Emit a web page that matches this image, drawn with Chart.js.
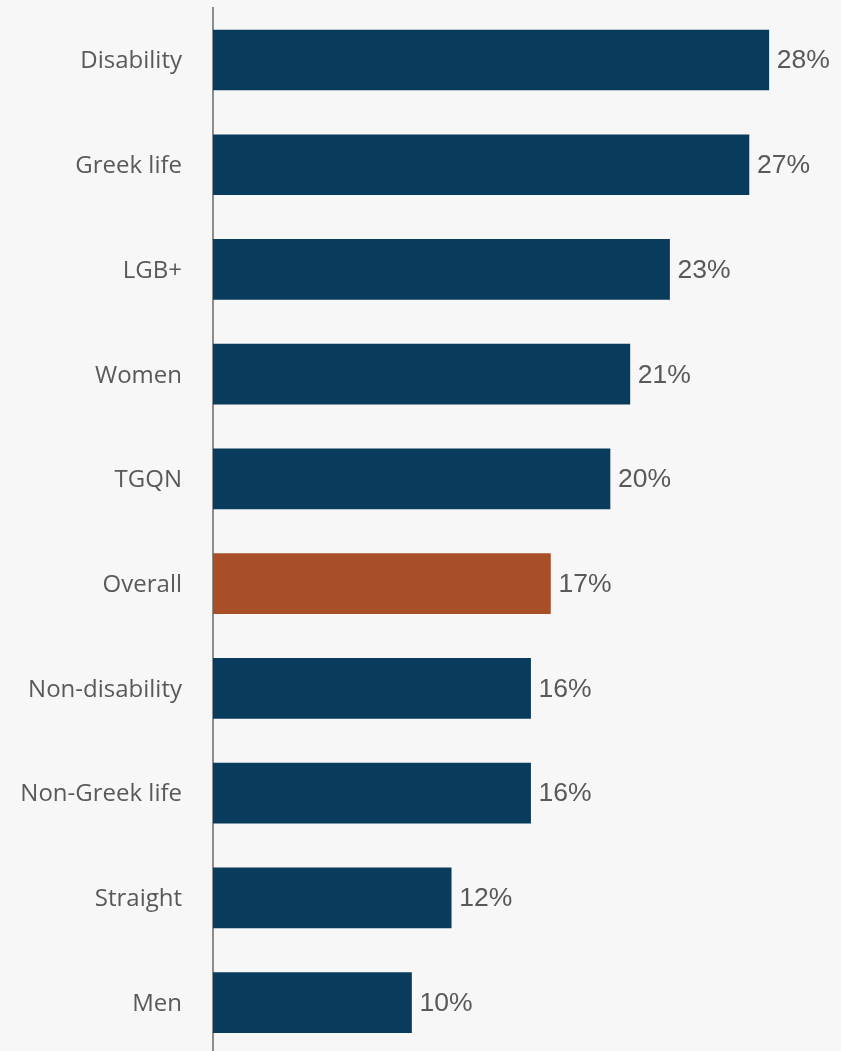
<!DOCTYPE html>
<html>
<head>
<meta charset="utf-8">
<script src="https://cdn.jsdelivr.net/npm/chart.js@4"></script>
<style>
  html, body { margin: 0; padding: 0; background: #f7f7f7; overflow: hidden; }
  #wrap { position: relative; width: 841px; height: 1055px; }
</style>
</head>
<body>
<div id="wrap"><canvas id="c"></canvas></div>
<script>
const categories = ["Disability", "Greek life", "LGB+", "Women", "TGQN", "Overall", "Non-disability", "Non-Greek life", "Straight", "Men"];
const values = [28, 27, 23, 21, 20, 17, 16, 16, 12, 10];
const highlight = "Overall";

const BLUE = "#083b5c";
const ORANGE = "#a94f27";

const valueLabels = {
  id: "valueLabels",
  afterDatasetsDraw(chart) {
    const ctx = chart.ctx;
    const meta = chart.getDatasetMeta(0);
    ctx.save();
    ctx.font = "26.5px 'Liberation Sans', Arial, sans-serif";
    ctx.fillStyle = "#595959";
    ctx.textAlign = "left";
    ctx.textBaseline = "middle";
    meta.data.forEach((bar, i) => {
      ctx.fillText(values[i] + "%", bar.x + 8, bar.y + 1);
    });
    ctx.restore();
  }
};

new Chart(document.getElementById("c"), {
  type: "bar",
  data: {
    labels: categories,
    datasets: [{
      data: values,
      backgroundColor: categories.map(c => c === highlight ? ORANGE : BLUE),
      borderWidth: 0,
      barThickness: 60
    }]
  },
  options: {
    indexAxis: "y",
    responsive: true,
    maintainAspectRatio: false,
    animation: false,
    layout: { padding: { top: 7.6, right: 32.5, bottom: 0, left: 0 } },
    plugins: { legend: { display: false }, tooltip: { enabled: false } },
    scales: {
      x: { display: false, min: 0, max: 30 },
      y: {
        afterFit(scale) {
          scale.width = 213;
          scale.paddingTop = 0;
          scale.paddingBottom = 0;
        },
        grid: { display: false, drawTicks: false },
        border: { display: true, color: "#8c8c8c", width: 2 },
        ticks: {
          padding: 31,
          labelOffset: 1.5,
          color: "#595959",
          font: { family: "'Open Sans', sans-serif", size: 24 }
        }
      }
    }
  },
  plugins: [valueLabels]
});
</script>
</body>
</html>
